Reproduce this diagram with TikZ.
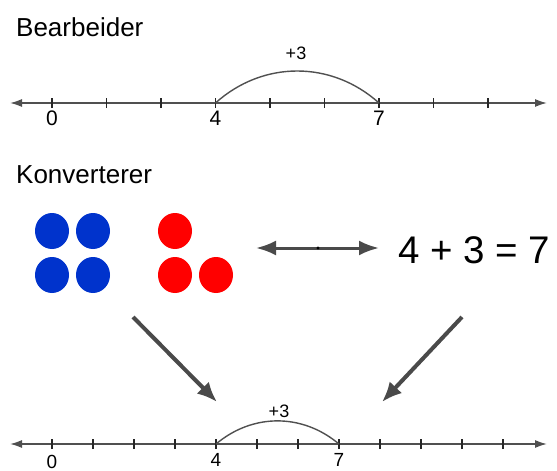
\documentclass[tikz,border=0pt]{standalone}
\usepackage{fontspec}
\setmainfont{Liberation Sans}
\usetikzlibrary{arrows.meta,shapes.geometric}
\definecolor{linegray}{HTML}{505050}
\definecolor{arrowgray}{HTML}{4A4A4A}
\definecolor{dotblue}{HTML}{0033CC}
\definecolor{dotred}{HTML}{FF0000}
\tikzset{
  numline/.style={draw=linegray, line width=1.6pt, {Latex[length=12pt,width=8pt]}-{Latex[length=12pt,width=8pt]}},
  tickmark/.style={draw=black!85, line width=1.4pt},
  jumparc/.style={draw=linegray, line width=1.4pt},
  title/.style={font=\fontsize{26}{31}\selectfont, anchor=base west, inner sep=0pt},
  ticklabel/.style={anchor=north, inner sep=0pt},
  dot/.style={ellipse, minimum width=34pt, minimum height=36pt, inner sep=0pt},
  bigarrow/.style={draw=arrowgray, line width=4pt, -{Latex[length=20pt,width=17pt]}},
  dblarrow/.style={draw=arrowgray, line width=3pt, {Latex[length=20pt,width=15pt]}-{Latex[length=20pt,width=15pt]}}
}
\begin{document}
\begin{tikzpicture}[x=1pt,y=-1pt]
\useasboundingbox (0,0) rectangle (557,471);

% ---------- Bearbeider ----------
\node[title] (t1) at (16,36) {Bearbeider};
\coordinate (aL) at (10,103);
\coordinate (aR) at (547,103);
\draw[numline] (aL) -- (aR);
\foreach \i in {0,...,8} {
  \coordinate (a\i) at ({52+54.5*\i},103);
  \draw[tickmark] ([yshift=-5pt]a\i) -- ([yshift=5pt]a\i);
}
\node[ticklabel, font=\fontsize{21}{25}\selectfont] (la0) at ([yshift=-8pt]a0) {0};
\node[ticklabel, font=\fontsize{21}{25}\selectfont] (la4) at ([yshift=-8pt]a3) {4};
\node[ticklabel, font=\fontsize{21}{25}\selectfont] (la7) at ([yshift=-8pt]a6) {7};
\draw[jumparc] (a3) to[out=42,in=138] (a6);
\node[font=\fontsize{18}{22}\selectfont] (p1) at (296,53) {+3};

% ---------- Konverterer ----------
\node[title] (t2) at (16,183) {Konverterer};
\node[dot, fill=dotblue] (b1) at (52,231) {};
\node[dot, fill=dotblue] (b2) at (93,231) {};
\node[dot, fill=dotblue] (b3) at (52,275) {};
\node[dot, fill=dotblue] (b4) at (93,275) {};
\node[dot, fill=dotred] (r1) at (175,231) {};
\node[dot, fill=dotred] (r2) at (175,275) {};
\node[dot, fill=dotred] (r3) at (216,275) {};

\coordinate (dL) at (256,248);
\coordinate (dR) at (379,248);
\draw[dblarrow] (dL) -- (dR);
\fill[black] (318,248) circle (1.6pt);

\node[font=\fontsize{38.5}{46}\selectfont, anchor=base west, inner sep=0pt] (eq) at (398,263) {4 + 3 = 7};

\coordinate (s1) at (133,317);
\coordinate (e1) at (217,402);
\coordinate (s2) at (462,317);
\coordinate (e2) at (382,402);
\draw[bigarrow] (s1) -- (e1);
\draw[bigarrow] (s2) -- (e2);

% ---------- bottom number line ----------
\coordinate (cL) at (10,444);
\coordinate (cR) at (547,444);
\draw[numline] (cL) -- (cR);
\foreach \i in {0,...,11} {
  \coordinate (c\i) at ({52+41*\i},444);
  \draw[tickmark] ([yshift=-5pt]c\i) -- ([yshift=5pt]c\i);
}
\node[ticklabel, font=\fontsize{19}{23}\selectfont] (lc0) at ([yshift=-11pt]c0) {0};
\node[ticklabel, font=\fontsize{19}{23}\selectfont] (lc4) at ([yshift=-9pt]c4) {4};
\node[ticklabel, font=\fontsize{19}{23}\selectfont] (lc7) at ([yshift=-9pt]c7) {7};
\draw[jumparc] (c4) to[out=40,in=140] (c7);
\node[font=\fontsize{18}{22}\selectfont] (p2) at (279,411) {+3};
\end{tikzpicture}
\end{document}
